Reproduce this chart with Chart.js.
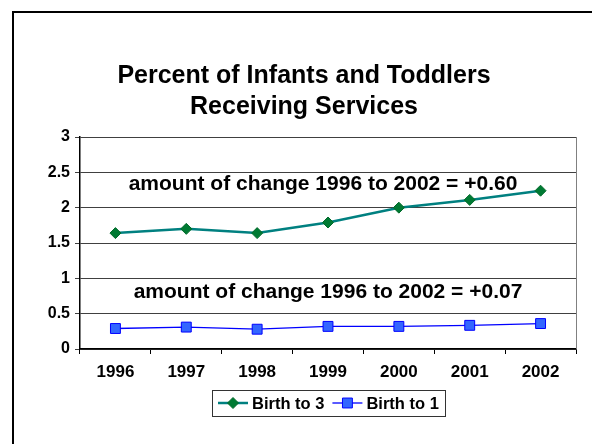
<!DOCTYPE html>
<html>
<head>
<meta charset="utf-8">
<script src="https://cdn.jsdelivr.net/npm/chart.js@4"></script>
<style>
  html, body { margin:0; padding:0; background:#fff; }
  body { width:592px; height:444px; position:relative; overflow:hidden; font-family:Arial, "Liberation Sans", sans-serif; }
  #frame { position:absolute; left:12px; top:11px; width:600px; height:500px; border:2px solid #000; box-sizing:border-box; }
  #title { position:absolute; left:104px; top:59px; width:400px; text-align:center; font-weight:bold; font-size:25px; line-height:31px; color:#000; }
  #c { position:absolute; left:0; top:0; }
</style>
</head>
<body>
<div id="frame"></div>
<canvas id="c" width="592" height="444"></canvas>
<div id="title">Percent of Infants and Toddlers<br>Receiving Services</div>
<script>
// ---- data ----
const years = ["1996","1997","1998","1999","2000","2001","2002"];
const birthTo3 = [1.64, 1.70, 1.64, 1.79, 2.00, 2.11, 2.24];
const birthTo1 = [0.29, 0.31, 0.28, 0.32, 0.32, 0.335, 0.36];
const seriesNames = ["Birth to 3", "Birth to 1"];
const yTicks = [0, 0.5, 1, 1.5, 2, 2.5, 3];
const notes = ["amount of change 1996 to 2002 = +0.60", "amount of change 1996 to 2002 = +0.07"];

const FAMILY = "Arial, 'Liberation Sans', sans-serif";

// text notes inside the plot + right frame line of the plot area
const notesPlugin = {
  id: "notes",
  afterDatasetsDraw(chart){
    const {ctx, chartArea, scales} = chart;
    ctx.save();
    // right border of plot area
    ctx.strokeStyle = "#808080";
    ctx.lineWidth = 1;
    ctx.beginPath();
    ctx.moveTo(Math.round(chartArea.right)+0.5, chartArea.top);
    ctx.lineTo(Math.round(chartArea.right)+0.5, chartArea.bottom);
    ctx.stroke();

    ctx.fillStyle = "#000";
    ctx.font = "bold 21px " + FAMILY;
    ctx.textAlign = "center";
    ctx.textBaseline = "middle";
    const cx = scales.x.getPixelForValue(3);
    ctx.fillText(notes[0], cx - 5, scales.y.getPixelForValue(2.33));
    ctx.fillText(notes[1], cx, scales.y.getPixelForValue(0.81));
    ctx.restore();
  }
};

// legend drawn as a box with line+marker samples (Excel style)
const legendPlugin = {
  id: "xlLegend",
  afterDraw(chart){
    const {ctx} = chart;
    const ds = chart.data.datasets;
    ctx.save();
    ctx.font = "bold 16.5px " + FAMILY;
    ctx.textBaseline = "middle";
    ctx.textAlign = "left";
    const y = 403;
    const sample = 30, gap = 4, between = 8;
    let widths = ds.map(d => sample + gap + ctx.measureText(d.label).width);
    let total = widths.reduce((a,b)=>a+b,0) + between*(ds.length-1) + 12;
    let x0 = Math.round(328 - total/2);
    ctx.strokeStyle = "#333";
    ctx.lineWidth = 1;
    ctx.strokeRect(x0+0.5, 390.5, Math.round(total), 26);
    let x = x0 + 6;
    ds.forEach((d,i)=>{
      ctx.strokeStyle = d.borderColor;
      ctx.lineWidth = d.borderWidth;
      ctx.beginPath(); ctx.moveTo(x, y); ctx.lineTo(x+sample, y); ctx.stroke();
      const mx = x + sample/2;
      ctx.fillStyle = d.pointBackgroundColor;
      ctx.strokeStyle = d.pointBorderColor;
      ctx.lineWidth = 1;
      ctx.beginPath();
      if(d.pointStyle === "rectRot"){
        const r = d.pointRadius;
        ctx.moveTo(mx, y-r); ctx.lineTo(mx+r, y); ctx.lineTo(mx, y+r); ctx.lineTo(mx-r, y); ctx.closePath();
      }else{
        const s = d.pointRadius*Math.SQRT1_2;
        ctx.rect(mx-s, y-s, 2*s, 2*s);
      }
      ctx.fill(); ctx.stroke();
      ctx.fillStyle = "#000";
      ctx.fillText(d.label, x + sample + gap, y+1);
      x += widths[i] + between;
    });
    ctx.restore();
  }
};

new Chart(document.getElementById("c"), {
  type: "line",
  data: {
    labels: years,
    datasets: [
      {
        label: seriesNames[0],
        data: birthTo3,
        borderColor: "#008080",
        borderWidth: 2.5,
        pointStyle: "rectRot",
        pointRadius: 5.5,
        pointBackgroundColor: "#007a33",
        pointBorderColor: "#006a2a",
        pointBorderWidth: 1,
        tension: 0
      },
      {
        label: seriesNames[1],
        data: birthTo1,
        borderColor: "#0000ff",
        borderWidth: 1.3,
        pointStyle: "rect",
        pointRadius: 7,
        pointBackgroundColor: "#3366ff",
        pointBorderColor: "#0000ff",
        pointBorderWidth: 1,
        tension: 0
      }
    ]
  },
  options: {
    responsive: false,
    animation: false,
    devicePixelRatio: 1,
    layout: { padding: { top: 137, right: 16, left: 0, bottom: 0 } },
    plugins: { legend: { display: false }, title: { display: false }, tooltip: { enabled: false } },
    scales: {
      x: {
        offset: true,
        grid: { display: true, offset: true, drawOnChartArea: false, color: "#000", tickLength: 5 },
        border: { color: "#000", width: 1.5 },
        ticks: { color: "#000", font: { family: FAMILY, size: 17, weight: "bold" }, padding: 8, maxRotation: 0 },
        afterFit(s){ s.height = 95; }
      },
      y: {
        min: 0, max: 3,
        afterBuildTicks(s){ s.ticks = yTicks.map(v => ({ value: v })); },
        grid: { color: "#404040", lineWidth: 1, tickLength: 5 },
        border: { color: "#000", width: 1.5 },
        ticks: { color: "#000", font: { family: FAMILY, size: 16, weight: "bold" }, padding: 5,
                 callback: v => String(v) },
        afterFit(s){ s.width = 80; }
      }
    }
  },
  plugins: [notesPlugin, legendPlugin]
});
</script>
</body>
</html>
